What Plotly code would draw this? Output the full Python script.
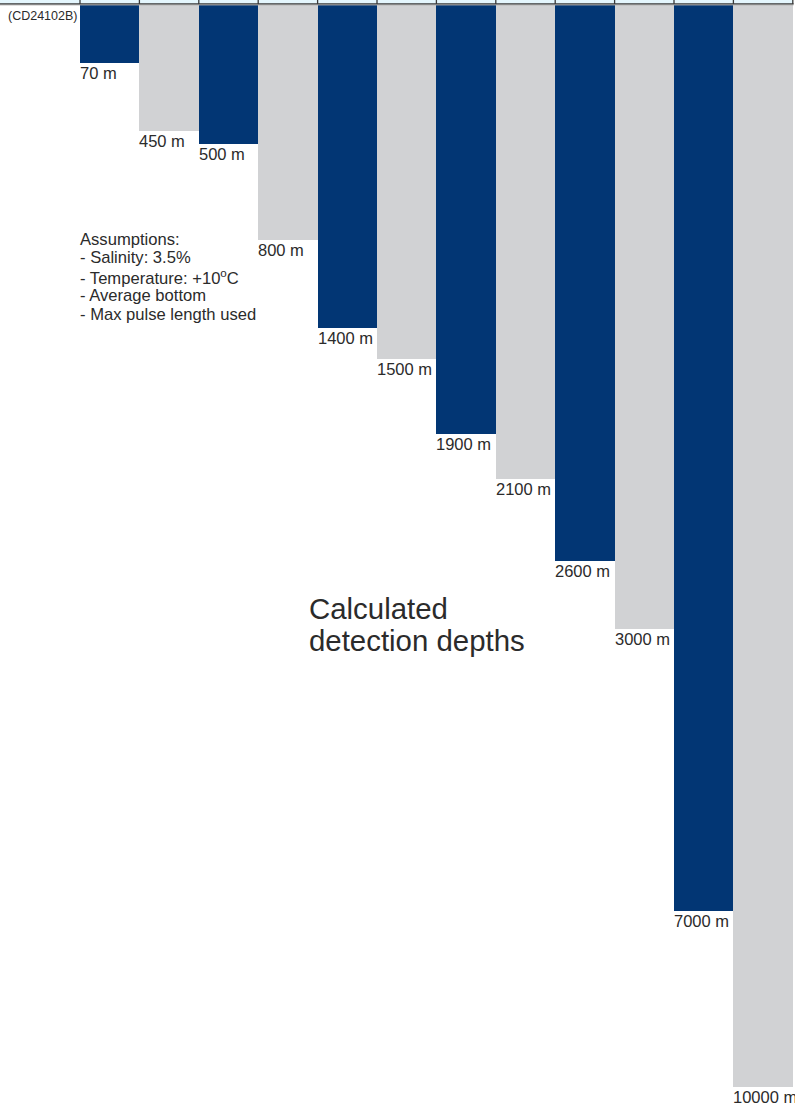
import plotly.graph_objects as go

# Data
depth_labels = ["70 m", "450 m", "500 m", "800 m", "1400 m", "1500 m",
                "1900 m", "2100 m", "2600 m", "3000 m", "7000 m", "10000 m"]
# drawn bar length (schematic units)
bar_length = [57.7, 125.7, 138.7, 235, 322.7, 353.7,
              429, 473.7, 555.7, 623.7, 906, 1081.7]
bar_colors = ["#023674", "#d1d2d4"] * 6
assumptions = ["Assumptions:", "- Salinity: 3.5%", "- Temperature: +10<sup>o</sup>C",
               "- Average bottom", "- Max pulse length used"]
title_lines = ["Calculated", "detection depths"]
ref_code = "(CD24102B)"

W, H = 795, 1104
x0_px, bw_px = 80.0, 59.4
top_px = 5.0
xs = list(range(len(depth_labels)))

xr = [-0.5 - x0_px / bw_px, -0.5 + (W - x0_px) / bw_px]
yr = [H - top_px, -top_px]

FONT = "Liberation Sans, Arial"
TXT = "#2b2b2b"

fig = go.Figure()
fig.add_trace(go.Bar(
    x=xs, y=bar_length, base=0, width=1.0,
    marker=dict(color=bar_colors, line=dict(width=0)),
    hoverinfo="skip", showlegend=False,
))

# Labels under each bar
for i, (lab, L) in enumerate(zip(depth_labels, bar_length)):
    fig.add_annotation(x=i - 0.5, y=L - 0.8, text=lab, showarrow=False,
                       xanchor="left", yanchor="top", xshift=-2,
                       font=dict(family=FONT, size=16.5, color=TXT))

def px2x(p):
    return -0.5 + (p - x0_px) / bw_px

# Header strip (cells)
fig.add_shape(type="rect", xref="x", yref="y", x0=xr[0], x1=px2x(793), y0=-5, y1=-1,
              fillcolor="#e4f6fd", line=dict(width=0), layer="above")
fig.add_shape(type="line", xref="x", yref="y", x0=xr[0], x1=px2x(793.5), y0=-1, y1=-1,
              line=dict(color="#3a3a3a", width=1.3), layer="above")
fig.add_shape(type="line", xref="x", yref="y", x0=xr[0], x1=px2x(793.5), y0=0, y1=0,
              line=dict(color="#b0b0b0", width=0.8), layer="above")
for k in range(len(depth_labels) + 1):
    xe = k - 0.5
    fig.add_shape(type="line", xref="x", yref="y", x0=xe, x1=xe, y0=-5, y1=-1,
                  line=dict(color="#3a3a3a", width=1.3), layer="above")

# Reference code
fig.add_annotation(x=-0.5, y=11, text=ref_code, showarrow=False, xanchor="right",
                   yanchor="middle", xshift=-1,
                   font=dict(family=FONT, size=12.5, color=TXT))

# Assumptions block
for j, line in enumerate(assumptions):
    fig.add_annotation(x=-0.5, y=234 + j * 18.8, text=line, showarrow=False,
                       xanchor="left", yanchor="middle", xshift=-2,
                       font=dict(family=FONT, size=16.6, color=TXT))

# Title block
for j, line in enumerate(title_lines):
    fig.add_annotation(x=px2x(307), y=603 + j * 32, text=line, showarrow=False,
                       xanchor="left", yanchor="middle",
                       font=dict(family=FONT, size=29.4, color=TXT))

fig.update_layout(
    width=W, height=H,
    margin=dict(l=0, r=0, t=0, b=0),
    paper_bgcolor="white", plot_bgcolor="white",
    bargap=0,
    xaxis=dict(range=xr, visible=False, fixedrange=True),
    yaxis=dict(range=yr, visible=False, fixedrange=True),
)

fig.write_html("out.html", config={"displayModeBar": False, "staticPlot": True},
               post_script="document.body.style.margin='0';document.body.style.padding='0';")
